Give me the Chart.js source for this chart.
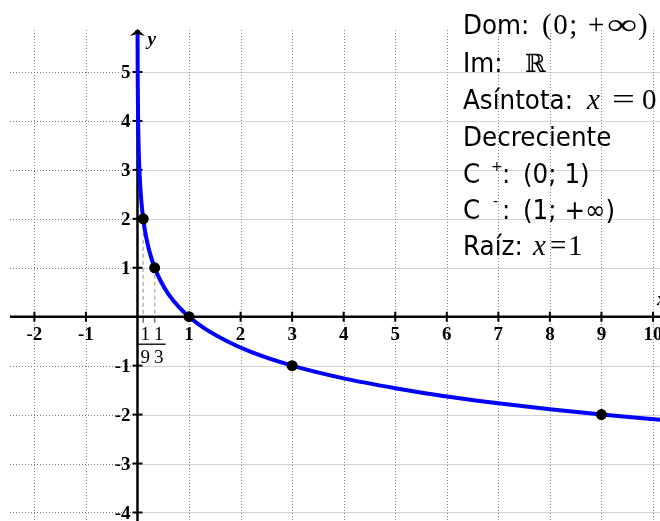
<!DOCTYPE html>
<html><head><meta charset="utf-8">
<script src="https://cdn.jsdelivr.net/npm/chart.js@4/dist/chart.umd.min.js"></script>
<style>html,body{margin:0;padding:0;background:#fff;overflow:hidden}#wrap{width:660px;height:521px}</style>
</head><body><div id="wrap"><canvas id="c" width="660" height="521"></canvas></div>
<script>
// ---- data ----
const curveX = [0.0015, 0.003, 0.006, 0.012, 0.025, 0.05, 0.08, 0.111, 0.16, 0.23, 0.333, 0.45, 0.6, 0.8, 1, 1.3, 1.7, 2.2, 3, 4, 5, 6, 7, 8, 9, 10.2];
const curveY = [5.92, 5.29, 4.66, 4.03, 3.36, 2.73, 2.30, 2.00, 1.67, 1.34, 1.00, 0.73, 0.46, 0.20, 0, -0.24, -0.48, -0.72, -1.00, -1.26, -1.46, -1.63, -1.77, -1.89, -2.00, -2.11];
const pointX = [1/9, 1/3, 1, 3, 9];
const pointY = [2, 1, 0, -1, -2];
const xTickValues = [-2, -1, 1, 2, 3, 4, 5, 6, 7, 8, 9, 10];
const yTickValues = [-4, -3, -2, -1, 1, 2, 3, 4, 5];
const fracTickValues = [1/9, 1/3];
const fracNumerators = ['1', '1'];
const fracDenominators = ['9', '3'];
const guidePointIndex = [0, 1];
const axisNames = ['x', 'y'];
const infoText = [
  ['Dom:', '(0;', '+', '∞', ')'],
  ['Im:', 'ℝ'],
  ['Asíntota:', 'x', '=', '0'],
  ['Decreciente'],
  ['C', '+', ':', '(0; 1)'],
  ['C', '-', ':', '(1; +∞)'],
  ['Raíz:', 'x', '=', '1']
];

// ---- styling / layout ----
const SANS = '26.5px "DejaVu Sans"';
const SX = 0.93;
const MATH = '29px "Liberation Serif"';
const MATHI = 'italic 29px "Liberation Serif"';
const SUP = '14px "DejaVu Sans"';
const DBL = '25px "DejaVu Serif"';
// [font, x, letterSpacing, dy, scaleX]
const infoLayout = [
  {base: 34,  segs: [[SANS, 463, 0, 0, SX], [MATH, 542, 1.5], [MATH, 588], [MATH, 607, 0, 0, 1.45], [MATH, 638]]},
  {base: 72,  segs: [[SANS, 463, 0, 0, SX], [DBL, 525]]},
  {base: 109, segs: [[SANS, 463, 0, 0, SX], [MATHI, 587], [MATH, 612, 0, 0, 1.4], [MATH, 642]]},
  {base: 146, segs: [[SANS, 463, 0, 0, SX]]},
  {base: 183, segs: [[SANS, 463, 0, 0, SX], [SUP, 491, 0, -12], [SANS, 502, 0, 0, SX], [SANS, 523, 0, 0, SX]]},
  {base: 219, segs: [[SANS, 463, 0, 0, SX], [SUP, 493, 0, -13], [SANS, 502, 0, 0, SX], [SANS, 523, 0, 0, SX]]},
  {base: 255, segs: [[SANS, 463, 0, 0, SX], [MATHI, 533], [MATH, 550], [MATH, 568]]}
];
const fracLabelOffset = [2, 4];

function seg(ctx, x1, y1, x2, y2) { ctx.beginPath(); ctx.moveTo(x1, y1); ctx.lineTo(x2, y2); ctx.stroke(); }

const refPlugin = {
  id: 'ref',
  beforeDatasetsDraw(chart) {
    const {ctx, chartArea: a, scales: {x: sx, y: sy}} = chart;
    const X0 = sx.getPixelForValue(0), Y0 = sy.getPixelForValue(0);
    ctx.save();
    ctx.lineWidth = 1;
    // vertical grid (dotted)
    ctx.strokeStyle = '#8c8c8c';
    ctx.setLineDash([1, 2]);
    xTickValues.forEach(v => {
      const px = Math.round(sx.getPixelForValue(v)) + 0.5;
      seg(ctx, px, a.top, px, a.bottom);
    });
    // horizontal grid
    yTickValues.forEach(v => {
      const py = Math.round(sy.getPixelForValue(v)) + 0.5;
      ctx.strokeStyle = '#7a7a7a'; ctx.setLineDash([1, 2]);
      seg(ctx, a.left, py, X0, py);
      ctx.strokeStyle = '#a8a8a8'; ctx.setLineDash([1, 1]);
      seg(ctx, X0, py, a.right, py);
    });
    // dashed guide lines from 1/9 and 1/3 points
    ctx.strokeStyle = '#b8b8b8'; ctx.lineWidth = 1.5; ctx.setLineDash([4, 3]);
    guidePointIndex.forEach(i => {
      const px = sx.getPixelForValue(pointX[i]);
      seg(ctx, px, sy.getPixelForValue(pointY[i]), px, Y0);
    });
    ctx.setLineDash([]);
    ctx.strokeStyle = '#777'; ctx.lineWidth = 1.5;
    fracTickValues.forEach(v => { const px = sx.getPixelForValue(v); seg(ctx, px, Y0, px, Y0 + 6); });
    // axes
    ctx.strokeStyle = '#000'; ctx.lineWidth = 2.5;
    seg(ctx, a.left, Y0, a.right, Y0);
    seg(ctx, X0, a.top + 4, X0, a.bottom);
    // ticks
    ctx.lineWidth = 2;
    xTickValues.forEach(v => { const px = sx.getPixelForValue(v); seg(ctx, px, Y0 - 5, px, Y0 + 5); });
    yTickValues.forEach(v => { const py = sy.getPixelForValue(v); seg(ctx, X0 - 5, py, X0 + 5, py); });
    // tick labels
    ctx.fillStyle = '#000';
    ctx.font = 'bold 19px "Liberation Serif"';
    ctx.textBaseline = 'alphabetic';
    ctx.textAlign = 'center';
    xTickValues.forEach(v => ctx.fillText(String(v), sx.getPixelForValue(v), Y0 + 23));
    ctx.textAlign = 'right';
    yTickValues.forEach(v => ctx.fillText(String(v), X0 - 7, sy.getPixelForValue(v) + 6.5));
    // fraction labels
    ctx.font = '19px "Liberation Serif"';
    ctx.textAlign = 'center';
    ctx.lineWidth = 1.3;
    fracTickValues.forEach((v, i) => {
      const cx = sx.getPixelForValue(v) + fracLabelOffset[i];
      ctx.fillText(fracNumerators[i], cx, Y0 + 23);
      seg(ctx, cx - 7, Y0 + 27.5, cx + 7, Y0 + 27.5);
      ctx.fillText(fracDenominators[i], cx, Y0 + 46);
    });
    ctx.restore();
  },
  afterDatasetsDraw(chart) {
    const {ctx, chartArea: a, scales: {x: sx, y: sy}} = chart;
    const X0 = sx.getPixelForValue(0), Y0 = sy.getPixelForValue(0);
    ctx.save();
    // y-axis arrow head
    ctx.fillStyle = '#000';
    ctx.beginPath();
    ctx.moveTo(X0, a.top - 1);
    ctx.lineTo(X0 + 7.5, a.top + 6);
    ctx.lineTo(X0, a.top + 4);
    ctx.lineTo(X0 - 7.5, a.top + 6);
    ctx.closePath(); ctx.fill();
    // axis names
    ctx.font = 'bold italic 19px "Liberation Serif"';
    ctx.textAlign = 'left';
    ctx.fillText(axisNames[1], X0 + 10, a.top + 15);
    ctx.fillText(axisNames[0], a.right - 3, Y0 - 12);
    // info text block
    ctx.fillStyle = '#000';
    ctx.textBaseline = 'alphabetic';
    infoText.forEach((parts, li) => {
      const L = infoLayout[li];
      parts.forEach((t, si) => {
        const s = L.segs[si];
        ctx.save();
        ctx.font = s[0];
        if ('letterSpacing' in ctx) ctx.letterSpacing = (s[2] || 0) + 'px';
        ctx.translate(s[1], L.base + (s[3] || 0));
        ctx.scale(s[4] || 1, 1);
        ctx.fillText(t, 0, 0);
        ctx.restore();
      });
    });
    ctx.restore();
  }
};

new Chart(document.getElementById('c'), {
  type: 'scatter',
  data: {
    datasets: [
      {
        label: 'puntos',
        data: pointX.map((x, i) => ({x, y: pointY[i]})),
        pointRadius: 5.5,
        pointBackgroundColor: '#000',
        pointBorderColor: '#000',
        pointBorderWidth: 0,
        showLine: false
      },
      {
        label: 'curva',
        data: curveX.map((x, i) => ({x, y: curveY[i]})),
        showLine: true,
        borderColor: '#0000ff',
        borderWidth: 4,
        pointRadius: 0,
        cubicInterpolationMode: 'monotone',
        fill: false
      }
    ]
  },
  options: {
    responsive: false,
    animation: false,
    devicePixelRatio: 1,
    layout: {autoPadding: false, padding: {left: 10, top: 30, right: 0, bottom: 0}},
    plugins: {legend: {display: false}, tooltip: {enabled: false}},
    scales: {
      x: {type: 'linear', display: false, min: -2.473, max: 10.136},
      y: {type: 'linear', display: false, min: -4.174, max: 5.858}
    }
  },
  plugins: [refPlugin]
});
</script>
</body></html>
